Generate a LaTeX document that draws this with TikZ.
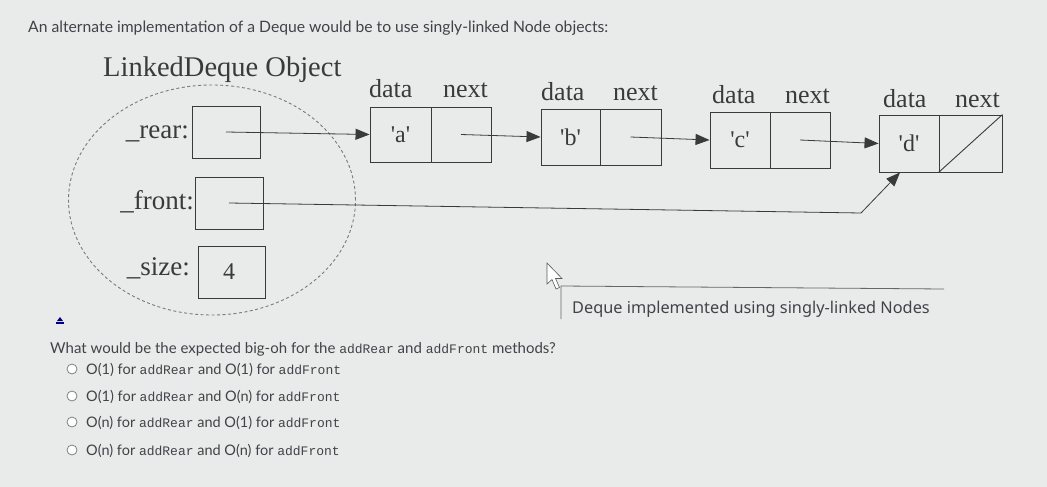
\documentclass[tikz,border=0pt]{standalone}
\usepackage{fontspec}
\setmainfont{Liberation Serif}
\newfontfamily\qfont{Liberation Serif}[Ligatures=TeXOff]
\newfontfamily\uifont{Lato}
\newfontfamily\capfont{Noto Sans}
\newfontfamily\codefont{Liberation Mono}
\usetikzlibrary{arrows.meta,shapes.geometric}
\definecolor{bg}{HTML}{E9EAEA}
\definecolor{ink}{HTML}{3A3A3A}
\definecolor{uitext}{HTML}{3F4447}
\definecolor{dashgray}{HTML}{7A7A7A}
\newcommand{\fs}[1]{\fontsize{#1}{#1}\selectfont}
\newcommand{\cd}[1]{{\codefont\fs{13}#1}}
\tikzset{
  cell/.style={draw=ink,line width=0.9pt,minimum height=55pt,inner sep=0pt,anchor=center},
  fieldbox/.style={draw=ink,line width=0.9pt,minimum width=68pt,minimum height=52pt,inner sep=0pt},
  lbl/.style={inner sep=0pt,text=ink,font=\fs{27}},
  hdr/.style={inner sep=0pt,text=ink,font=\fs{26}},
  val/.style={inner sep=0pt,text=ink,font=\qfont\fs{24}},
  link/.style={draw=ink,line width=0.8pt,-{Triangle[length=14pt,width=11pt]}},
  ui/.style={inner sep=0pt,text=uitext,anchor=base west,font=\uifont\fs{15}},
  radio/.style={draw=gray,fill=white,line width=0.8pt,circle,minimum size=10pt,inner sep=0pt},
}
\begin{document}
\begin{tikzpicture}[x=1pt,y=-1pt]
\fill[bg] (0,0) rectangle (1047,487);
\useasboundingbox (0,0) rectangle (1047,487);

% title
\node[ui,font=\uifont\fs{15.7}] (title) at (28,33) {An alternate implementation of a Deque would be to use singly-linked Node objects:};

% LinkedDeque object
\node[inner sep=0pt,anchor=base west,text=ink,font=\fs{28.5}] (objtitle) at (103,77) {LinkedDeque Object};
\node[draw=dashgray,dash pattern=on 3pt off 2.5pt,line width=0.9pt,ellipse,minimum width=287pt,minimum height=230pt,inner sep=0pt] (obj) at (212,200) {};

\node[fieldbox] (rear) at (226,132) {};
\node[fieldbox] (front) at (229,203) {};
\node[fieldbox,minimum width=67pt] (size) at (231.5,272) {};
\node[val] (four) at (229,272) {4};

\node[lbl,anchor=base east] (rearl) at (189,138) {\_rear:};
\node[lbl,anchor=base east] (frontl) at (194,209) {\_front:};
\node[lbl,anchor=base east] (sizel) at (190,275) {\_size:};

% linked nodes
\node[cell,minimum width=61pt] (ad) at (400.5,134.5) {};
\node[cell,minimum width=60pt] (an) at (461,134.5) {};
\node[cell,minimum width=59pt,minimum height=56pt] (bd) at (570.5,137) {};
\node[cell,minimum width=61pt,minimum height=56pt] (bn) at (630.5,137) {};
\node[cell,minimum width=60pt,minimum height=56pt] (cd) at (740,140) {};
\node[cell,minimum width=60pt,minimum height=56pt] (cn) at (800,140) {};
\node[cell,minimum width=60pt,minimum height=57pt] (dd) at (909,143.5) {};
\node[cell,minimum width=63pt,minimum height=57pt] (dn) at (970.5,143.5) {};
\draw[ink,line width=0.9pt] (dn.south west) -- (dn.north east);

\node[val] (va) at (ad.center) {'a'};
\node[val] (vb) at (bd.center) {'b'};
\node[val] (vc) at (cd.center) {'c'};
\node[val] (vd) at (dd.center) {'d'};

\node[hdr,anchor=base west] (ha1) at (369,97) {data};
\node[hdr,anchor=base east] (ha2) at (488,97) {next};
\node[hdr,anchor=base west] (hb1) at (541,100) {data};
\node[hdr,anchor=base east] (hb2) at (658,100) {next};
\node[hdr,anchor=base west] (hc1) at (712,103) {data};
\node[hdr,anchor=base east] (hc2) at (830,103) {next};
\node[hdr,anchor=base west] (hd1) at (883,107) {data};
\node[hdr,anchor=base east] (hd2) at (1000,107) {next};

% links
\draw[link] (rear.center) -- (ad.west);
\draw[link] (an.center) -- (bd.west);
\draw[link] (bn.center) -- (cd.west);
\draw[link] (cn.center) -- (dd.west);
\coordinate (bend) at (861,213);
\draw[link] (front.center) -- (bend) -- ([xshift=-9pt]dd.south);

% cursor
\draw[gray!70!black,fill=white,line width=0.6pt] (547,263) -- (547,284) -- (552,279.5) -- (556,289) -- (559.5,287.5) -- (555.5,278.5) -- (562,278.5) -- cycle;

% caption
\coordinate (capa) at (561,286);
\coordinate (capb) at (944,289);
\coordinate (capc) at (561,319);
\draw[gray!80!black,line width=0.8pt] (capc) -- (capa) -- (capb);
\node[inner sep=0pt,anchor=base west,text=uitext,font=\capfont\fs{16.3}] (caption) at (572,313) {Deque implemented using singly-linked Nodes};

% small icon
\fill[blue!50!black] (57,321) -- (63,321) -- (60,317) -- cycle;
\fill[blue!50!black] (56,322) rectangle (64,323.5);

% question
\node[ui] (q) at (50,353) {What would be the expected big-oh for the \cd{addRear} and \cd{addFront} methods?};
\foreach \i/\yy/\t in {1/369/{O(1) for \cd{addRear} and O(1) for \cd{addFront}},
                       2/396/{O(1) for \cd{addRear} and O(n) for \cd{addFront}},
                       3/422/{O(n) for \cd{addRear} and O(1) for \cd{addFront}},
                       4/450/{O(n) for \cd{addRear} and O(n) for \cd{addFront}}}{
  \node[radio] (r\i) at (72,\yy) {};
  \node[ui,font=\uifont\fs{14.5}] (o\i) at (86,\yy+5) {\t};
}
\end{tikzpicture}
\end{document}
